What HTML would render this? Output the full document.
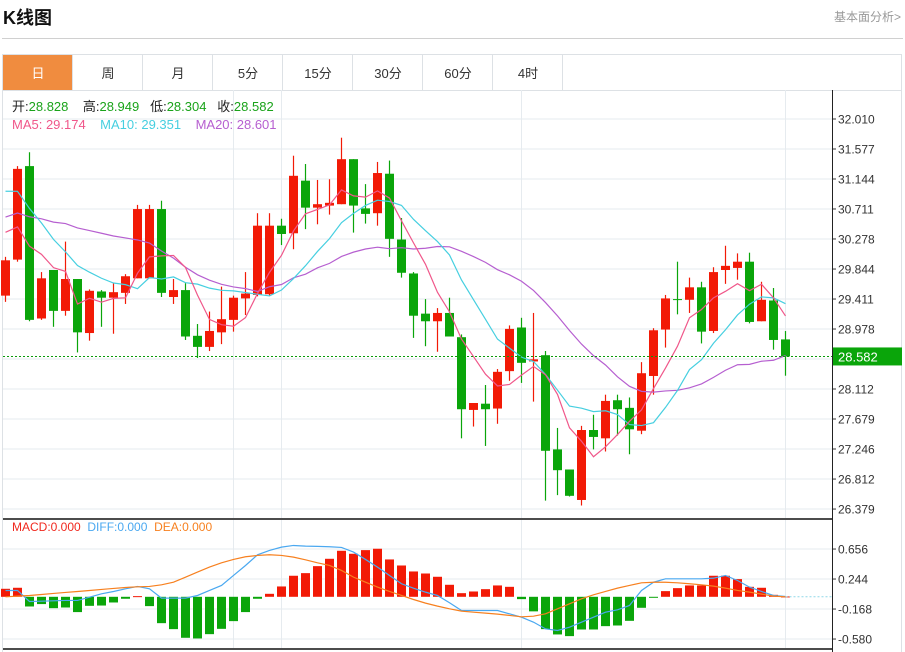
<!DOCTYPE html>
<html><head><meta charset="utf-8"><style>
html,body{margin:0;padding:0;background:#fff;width:905px;height:652px;overflow:hidden;}
svg{display:block;font-family:"Liberation Sans","Noto Sans CJK SC",sans-serif;}
</style></head><body>
<svg id="chart" width="905" height="652" viewBox="0 0 905 652">
<text x="3" y="24" font-size="18" font-weight="bold" fill="#111" font-family="'Liberation Sans','Noto Sans CJK SC',sans-serif">K线图</text>
<text x="834" y="21" font-size="12" fill="#999">基本面分析&gt;</text>
<line x1="2" y1="38.5" x2="903" y2="38.5" stroke="#d0d0d0"/>
<g id="tabs"></g>
<g id="plot"></g>
</svg>
<script>
// ---- data ----
const tabLabels = ["日","周","月","5分","15分","30分","60分","4时"];
const opens  = [29.46,29.98,31.33,29.13,29.83,29.24,29.70,28.92,29.52,29.43,29.50,29.71,29.71,30.71,29.44,29.54,28.88,28.72,28.93,29.11,29.42,29.47,29.48,30.47,30.36,31.12,30.73,30.76,30.78,31.43,30.72,30.65,31.22,30.27,29.78,29.20,29.09,29.21,28.86,27.81,27.90,27.83,28.37,29.00,28.51,28.60,27.24,26.95,26.51,27.52,27.40,27.95,27.84,27.51,28.30,28.97,29.41,29.40,29.58,28.95,29.83,29.86,29.95,29.09,29.39,28.828];
const highs  = [30.02,31.33,31.53,29.80,29.83,30.24,29.70,29.55,29.54,29.64,29.77,30.77,30.77,30.83,29.70,29.64,29.05,29.23,29.59,29.46,29.80,30.65,30.65,30.57,31.48,31.36,31.13,31.14,31.74,31.43,31.07,31.39,31.41,30.58,29.80,29.41,29.28,29.43,28.90,27.91,28.17,28.40,29.03,29.14,29.21,28.66,27.55,26.95,27.58,27.74,28.03,28.03,27.99,28.50,28.99,29.47,29.95,29.72,29.66,29.87,30.18,30.07,30.08,29.66,29.57,28.949];
const lows   = [29.37,29.95,29.09,29.11,29.01,29.17,28.64,28.81,29.01,28.91,29.34,29.71,29.71,29.44,29.34,28.82,28.56,28.66,28.76,28.94,29.18,29.45,29.46,30.19,30.13,30.42,30.49,30.63,30.78,30.37,30.50,30.47,30.02,29.72,28.85,28.73,28.65,28.87,27.40,27.57,27.29,27.61,28.23,28.20,27.93,26.50,26.58,26.56,26.43,27.24,27.21,27.44,27.17,27.46,28.03,28.71,29.19,29.21,28.77,28.92,29.63,29.69,29.06,29.09,28.68,28.304];
const closes = [29.97,31.29,29.11,29.71,29.24,29.70,28.93,29.53,29.43,29.51,29.74,30.71,30.71,29.50,29.54,28.87,28.72,28.95,29.12,29.43,29.49,30.47,30.47,30.35,31.19,30.73,30.78,30.80,31.43,30.76,30.64,31.23,30.28,29.79,29.17,29.09,29.21,28.87,27.82,27.91,27.82,28.36,28.98,28.49,28.54,27.22,26.94,26.57,27.52,27.42,27.94,27.82,27.53,28.34,28.96,29.42,29.40,29.58,28.94,29.80,29.89,29.95,29.08,29.40,28.82,28.582];
const priorCloses = [30.1,30.2,30.3,30.2,30.1,30.2,30.3,30.2,30.3,30.3,31.3,31.6,31.8,31.6,31.5,30.9,30.5,30.3,30.2];
const macdHist = [0.11,0.124,-0.133,-0.10,-0.156,-0.147,-0.21,-0.124,-0.12,-0.078,-0.027,0.009,-0.128,-0.362,-0.444,-0.563,-0.572,-0.513,-0.44,-0.334,-0.21,-0.027,0.041,0.142,0.289,0.325,0.421,0.522,0.632,0.591,0.641,0.66,0.513,0.43,0.348,0.32,0.275,0.165,0.05,0.073,0.105,0.156,0.137,-0.032,-0.2,-0.444,-0.517,-0.54,-0.449,-0.449,-0.403,-0.394,-0.33,-0.151,-0.01,0.078,0.119,0.156,0.156,0.289,0.289,0.243,0.137,0.124,0.027,0.005];
const diffVals = [0.087,0.087,-0.064,-0.06,-0.055,-0.05,-0.05,-0.005,0.041,0.073,0.11,0.142,0.11,-0.018,-0.018,-0.018,0.018,0.087,0.156,0.293,0.43,0.577,0.637,0.682,0.705,0.696,0.692,0.687,0.678,0.614,0.513,0.408,0.293,0.179,0.119,0.064,0.018,-0.082,-0.188,-0.188,-0.188,-0.188,-0.234,-0.28,-0.348,-0.44,-0.463,-0.417,-0.348,-0.28,-0.211,-0.179,-0.119,0.087,0.2,0.247,0.247,0.247,0.247,0.256,0.293,0.224,0.133,0.073,0.018,0.005];
const deaVals = [0,0.009,0.018,0.032,0.046,0.06,0.073,0.087,0.101,0.115,0.128,0.137,0.142,0.165,0.2,0.27,0.339,0.408,0.467,0.513,0.55,0.568,0.577,0.568,0.545,0.508,0.467,0.431,0.362,0.27,0.2,0.133,0.073,0.018,-0.037,-0.087,-0.128,-0.165,-0.197,-0.211,-0.224,-0.238,-0.256,-0.275,-0.266,-0.234,-0.165,-0.096,-0.027,0.027,0.073,0.119,0.156,0.192,0.2,0.2,0.192,0.179,0.165,0.147,0.119,0.087,0.064,0.037,0.009,0];
const priceTicks = ["32.010","31.577","31.144","30.711","30.278","29.844","29.411","28.978","28.545","28.112","27.679","27.246","26.812","26.379"];
const macdTicks = ["0.656","0.244","-0.168","-0.580"];

// ---- scales ----
const NS="http://www.w3.org/2000/svg";
const svg=document.getElementById('chart'), plot=document.getElementById('plot'), tabs=document.getElementById('tabs');
const PX=832, TOPP=32.010, PPU=30/0.4331;
const yP=p=>119+(TOPP-p)*PPU;
const xI=i=>5.5+12*i;
const MZ=596.8, MPU=30/0.412;
const yM=v=>MZ-v*MPU;
const UP="#f21a06", DN="#0aa50a";
function el(tag,attrs,parent){const e=document.createElementNS(NS,tag);for(const k in attrs)e.setAttribute(k,attrs[k]);(parent||plot).appendChild(e);return e;}

// tabs
el('rect',{x:2.5,y:54.5,width:899,height:36,fill:'#fff',stroke:'#dde1e5'},tabs);
tabLabels.forEach((t,i)=>{
  const g=el('g',{},tabs);
  
  
  const x=3+70*i;
  if(i===0) el('rect',{x:x,y:55,width:69,height:35,fill:'#f08c3f'},g);
  el('line',{x1:x+69.5,y1:55,x2:x+69.5,y2:90,stroke:'#dde1e5'},g);
  const tx=el('text',{x:x+35,y:78,'text-anchor':'middle','font-size':13,fill:i===0?'#fff':'#333'},g);
  tx.textContent=t;
});

// frame & grid
el('line',{x1:2.5,y1:90,x2:2.5,y2:652,stroke:'#dde1e5'});
el('line',{x1:901.5,y1:90,x2:901.5,y2:652,stroke:'#dde1e5'});
priceTicks.forEach((t,k)=>{
  const y=yP(parseFloat(t));
  el('line',{x1:3,y1:y,x2:PX,y2:y,stroke:'#e6ebef'});
  el('line',{x1:PX,y1:y,x2:PX+4,y2:y,stroke:'#333'});
  const tx=el('text',{x:PX+6,y:y+4.5,'font-size':12,fill:'#333'});
  
  
  tx.textContent=t;
});
macdTicks.forEach(t=>{
  const y=yM(parseFloat(t));
  el('line',{x1:3,y1:y,x2:PX,y2:y,stroke:'#e6ebef'});
  el('line',{x1:PX,y1:y,x2:PX+4,y2:y,stroke:'#333'});
  const tx=el('text',{x:PX+6,y:y+4.5,'font-size':12,fill:'#333'});
  
  
  tx.textContent=t;
});
[233,281,521,785].forEach(x=>{
  el('line',{x1:x+0.5,y1:90,x2:x+0.5,y2:518,stroke:'#e6ebef'});
  el('line',{x1:x+0.5,y1:520,x2:x+0.5,y2:648,stroke:'#e6ebef'});
});
el('line',{x1:PX+0.5,y1:90,x2:PX+0.5,y2:652,stroke:'#222'});
el('line',{x1:3,y1:519,x2:PX,y2:519,stroke:'#111','stroke-width':1.5});
el('line',{x1:3,y1:649,x2:PX,y2:649,stroke:'#111','stroke-width':1.5});

// candles
const cg=el('g',{});


closes.forEach((c,i)=>{
  const o=opens[i], col=c>=o?UP:DN, x=xI(i);
  const g=el('g',{},cg);
  
  
  el('line',{x1:x,y1:yP(highs[i]),x2:x,y2:yP(lows[i]),stroke:col,'stroke-width':1.2},g);
  const t=yP(Math.max(o,c)), b=yP(Math.min(o,c));
  el('rect',{x:x-4.5,y:t,width:9,height:Math.max(1,b-t),fill:col},g);
});

// moving averages
const all=priorCloses.concat(closes), P=priorCloses.length;
function ma(n){return closes.map((_,i)=>{let s=0,k=0;for(let j=P+i;j>P+i-n&&j>=0;j--){s+=all[j];k++;}return s/k;});}
const ma5=ma(5),ma10=ma(10),ma20=ma(20);
[[ma20,'#b65fd0','ma20-line'],[ma10,'#46cfe0','ma10-line'],[ma5,'#f0578a','ma5-line']].forEach(([arr,col,name])=>{
  const p=el('polyline',{points:arr.map((v,i)=>xI(i)+','+yP(v)).join(' '),fill:'none',stroke:col,'stroke-width':1.2});
  
  
});

// current price line
const last=closes[closes.length-1], ly=yP(last);
el('line',{x1:3,y1:ly,x2:PX,y2:ly,stroke:'#0a9a0a','stroke-dasharray':'2,2'});
const lb=el('rect',{x:833,y:ly-9,width:69,height:18,fill:'#0aa50a'});


const lt=el('text',{x:838,y:ly+5,'font-size':13,fill:'#fff'});


lt.textContent=last.toFixed(3);

// info header
function info(parts,y,name,fs){
  const t=el('text',{x:12,y:y,'font-size':fs||13});
  
  
  parts.forEach(([s,c])=>{const ts=el('tspan',{fill:c},t);ts.textContent=s;});
}
info([["开:","#222"],["28.828  ","#1aa31a"],["  高:","#222"],["28.949","#1aa31a"],["   低:","#222"],["28.304","#1aa31a"],["   收:","#222"],["28.582","#1aa31a"]],111,'ohlc-info');
info([["MA5: 29.174","#f0578a"],["    MA10: 29.351","#46cfe0"],["    MA20: 28.601","#b65fd0"]],129,'ma-legend');

// MACD
const hg=el('g',{});


macdHist.forEach((v,i)=>{
  const y0=yM(0), y1=yM(v);
  const r=el('rect',{x:xI(i)-4.5,y:Math.min(y0,y1),width:9,height:Math.max(1,Math.abs(y1-y0)),fill:v>=0?UP:DN},hg);
  
  
});
el('line',{x1:xI(macdHist.length-1),y1:yM(0),x2:PX,y2:yM(0),stroke:'#8fd8e8','stroke-dasharray':'2,2'});
[[diffVals,'#4aa8f0','diff-line'],[deaVals,'#f7801f','dea-line']].forEach(([arr,col,name])=>{
  const p=el('polyline',{points:arr.map((v,i)=>xI(i)+','+yM(v)).join(' '),fill:'none',stroke:col,'stroke-width':1.2});
  
  
});
info([["MACD:0.000","#f0281e"],["  DIFF:0.000","#4aa8f0"],["  DEA:0.000","#f7801f"]],531,'macd-legend',12);
document.querySelectorAll('text').forEach(t=>t.setAttribute('style','white-space:pre'));
</script>
</body></html>
